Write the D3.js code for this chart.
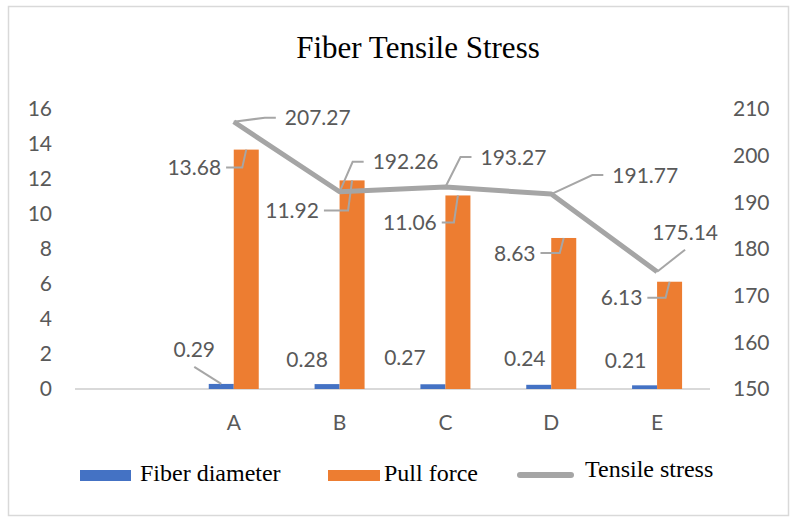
<!DOCTYPE html>
<html>
<head>
<meta charset="utf-8">
<script src="https://cdn.jsdelivr.net/npm/d3@7"></script>
<style>
  html, body { margin: 0; padding: 0; background: #fff; }
  svg { display: block; }
</style>
</head>
<body>
<svg id="chart" width="793" height="522"></svg>
<script>
// ---------- data ----------
const categories = ["", "A", "B", "C", "D", "E"];
const pointCats = ["A", "B", "C", "D", "E"];
const fiberDiameter = [0.29, 0.28, 0.27, 0.24, 0.21];
const pullForce = [13.68, 11.92, 11.06, 8.63, 6.13];
const tensileStress = [207.27, 192.26, 193.27, 191.77, 175.14];
const leftTicks = [0, 2, 4, 6, 8, 10, 12, 14, 16];
const rightTicks = [150, 160, 170, 180, 190, 200, 210];
const seriesNames = ["Fiber diameter", "Pull force", "Tensile stress"];
const titleText = "Fiber Tensile Stress";

// ---------- layout (label offsets relative to their anchor) ----------
const fiberLabelOff = [[-27, -34], [-20, -25], [-28, -27], [-14, -26], [-19, -25]];
const fiberLeader = ["bottom", null, null, null, null];
const pullLabelOff = [[-52, 18], [-60, 30], [-48, 27], [-49, 15], [-48, 16]];
const pullLeader = ["side", "side", "side", "side", "side"];
const stressLabelOff = [[84, -4], [66, -30], [68, -30], [94, -19], [28, -39]];
const stressLeader = ["side", "side", "side", "side", "bottom"];

const colors = { blue: "#4472C4", orange: "#ED7D31", grey: "#A5A5A5" };
const textGrey = "#595959";
const numFont = "Lato, 'Open Sans', sans-serif";
const numSize = 21;

const svg = d3.select("#chart");

// frame
svg.append("rect").attr("x", 8.5).attr("y", 6.5).attr("width", 780).attr("height", 509)
  .attr("fill", "#fff").attr("stroke", "#D9D9D9").attr("stroke-width", 1.5);

// title
svg.append("text").attr("x", 418).attr("y", 58).attr("text-anchor", "middle")
  .attr("font-family", "'Liberation Serif', 'Times New Roman', serif")
  .attr("font-size", 31).attr("fill", "#000").text(titleText);

// scales
const x = d3.scaleBand().domain(categories).range([75, 710]);
const x1 = d3.scaleBand().domain(seriesNames.slice(0, 2))
  .range([x.bandwidth() / 2 - 25, x.bandwidth() / 2 + 25]);
const yL = d3.scaleLinear().domain([0, 16]).range([389, 109]);
const yR = d3.scaleLinear().domain([150, 210]).range([389, 109]);

// axes
function styleAxis(g) {
  g.select(".domain").remove();
  g.selectAll("text").attr("font-family", numFont).attr("font-size", numSize).attr("fill", textGrey);
}
svg.append("g").attr("transform", "translate(52,0)")
  .call(d3.axisLeft(yL).tickValues(leftTicks).tickSize(0).tickPadding(0).tickFormat(d3.format("d")))
  .call(styleAxis);
svg.append("g").attr("transform", "translate(733,0)")
  .call(d3.axisRight(yR).tickValues(rightTicks).tickSize(0).tickPadding(0).tickFormat(d3.format("d")))
  .call(styleAxis);
svg.append("g").attr("transform", "translate(0,389)")
  .call(d3.axisBottom(x).tickSize(0).tickPadding(26))
  .call(styleAxis);

// baseline
svg.append("line").attr("x1", x.range()[0]).attr("x2", x.range()[1])
  .attr("y1", yL(0)).attr("y2", yL(0)).attr("stroke", "#D9D9D9").attr("stroke-width", 2);

// bars
const barData = pointCats.map((c, i) => ({ c, fd: fiberDiameter[i], pf: pullForce[i] }));
svg.append("g").selectAll("rect").data(barData).join("rect")
  .attr("x", d => x(d.c) + x1(seriesNames[0]))
  .attr("width", x1.bandwidth())
  .attr("y", d => yL(d.fd)).attr("height", d => yL(0) - yL(d.fd))
  .attr("fill", colors.blue);
svg.append("g").selectAll("rect").data(barData).join("rect")
  .attr("x", d => x(d.c) + x1(seriesNames[1]))
  .attr("width", x1.bandwidth())
  .attr("y", d => yL(d.pf)).attr("height", d => yL(0) - yL(d.pf))
  .attr("fill", colors.orange);

// line
const line = d3.line().x((d, i) => x(pointCats[i]) + x.bandwidth() / 2).y(d => yR(d));
svg.append("path").datum(tensileStress).attr("d", line)
  .attr("fill", "none").attr("stroke", colors.grey).attr("stroke-width", 5)
  .attr("stroke-linejoin", "round");

// labels with leader lines
const leaderLayer = svg.append("g");
const labelLayer = svg.append("g");
function addLabels(values, anchorFn, offs, leaders) {
  values.forEach((v, i) => {
    const a = anchorFn(v, i);
    const tx = a[0] + offs[i][0], ty = a[1] + offs[i][1];
    const t = labelLayer.append("text").attr("x", tx).attr("y", ty).attr("dy", "0.36em")
      .attr("text-anchor", "middle").attr("font-family", numFont).attr("font-size", numSize)
      .attr("fill", textGrey).text(d3.format(".2f")(v));
    const w = t.node().getComputedTextLength();
    let pts = null;
    if (leaders[i] === "side") {
      if (tx < a[0]) {
        const sx = tx + w / 2 + 5;
        const ex = Math.max(sx + 9, a[0] - 4);
        pts = [[sx, ty], [ex, ty], a];
      } else {
        const sx = tx - w / 2 - 9;
        const ex = sx - 11;
        pts = [[sx, ty], [ex, ty], a];
      }
    } else if (leaders[i] === "bottom") {
      pts = [[tx, ty + 17], a];
    }
    if (pts) {
      leaderLayer.append("path").attr("d", d3.line()(pts)).attr("fill", "none")
        .attr("stroke", "#A6A6A6").attr("stroke-width", 2);
    }
  });
}
addLabels(fiberDiameter, (v, i) => [x(pointCats[i]) + x1(seriesNames[0]) + x1.bandwidth() / 2, yL(v)], fiberLabelOff, fiberLeader);
addLabels(pullForce, (v, i) => [x(pointCats[i]) + x1(seriesNames[1]) + x1.bandwidth() / 2, yL(v)], pullLabelOff, pullLeader);
addLabels(tensileStress, (v, i) => [x(pointCats[i]) + x.bandwidth() / 2, yR(v)], stressLabelOff, stressLeader);

// legend
const legFont = "'Liberation Serif', 'Times New Roman', serif";
const leg = svg.append("g");
leg.append("rect").attr("x", 80).attr("y", 470).attr("width", 51).attr("height", 11).attr("fill", colors.blue);
leg.append("text").attr("x", 140).attr("y", 481).attr("font-family", legFont).attr("font-size", 24).attr("fill", "#000").text(seriesNames[0]);
leg.append("rect").attr("x", 328).attr("y", 470).attr("width", 52).attr("height", 11).attr("fill", colors.orange);
leg.append("text").attr("x", 384).attr("y", 481).attr("font-family", legFont).attr("font-size", 24).attr("fill", "#000").text(seriesNames[1]);
leg.append("line").attr("x1", 520).attr("x2", 571).attr("y1", 475).attr("y2", 475)
  .attr("stroke", colors.grey).attr("stroke-width", 6).attr("stroke-linecap", "round");
leg.append("text").attr("x", 585).attr("y", 477).attr("font-family", legFont).attr("font-size", 24).attr("fill", "#000").text(seriesNames[2]);
</script>
</body>
</html>
